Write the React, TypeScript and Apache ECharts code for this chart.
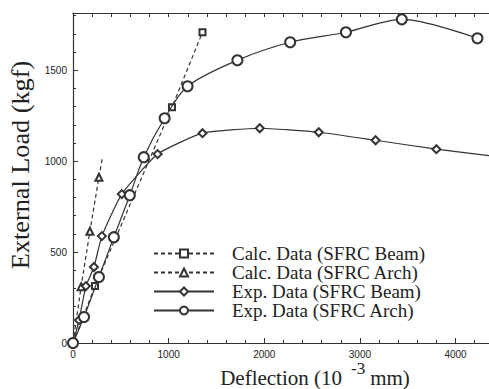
import React, { useEffect, useRef } from "react";
import * as echarts from "echarts";

const seriesNames = [
  "Calc. Data (SFRC Beam)",
  "Calc. Data (SFRC Arch)",
  "Exp. Data (SFRC Beam)",
  "Exp. Data (SFRC Arch)",
];

// [deflection (10^-3 mm), load (kgf)]
const calcBeam: number[][] = [
  [0, 0],
  [230, 313],
  [1035, 1297],
  [1354, 1709],
];
const calcArch: number[][] = [
  [0, 0],
  [85, 310],
  [177, 615],
  [271, 912],
  [305, 1010],
];
const expBeam: number[][] = [
  [0, 0],
  [63, 126],
  [135, 313],
  [219, 418],
  [302, 588],
  [510, 819],
  [885, 1039],
  [1354, 1154],
  [1953, 1181],
  [2570, 1159],
  [3164, 1115],
  [3800, 1066],
  [4350, 1030],
];
const expArch: number[][] = [
  [0, 0],
  [115, 143],
  [271, 363],
  [427, 582],
  [594, 813],
  [740, 1022],
  [958, 1236],
  [1198, 1412],
  [1719, 1555],
  [2271, 1654],
  [2854, 1709],
  [3438, 1780],
  [4229, 1676],
];

const xTicks = [0, 1000, 2000, 3000, 4000];
const yTicks = [0, 500, 1000, 1500];

const yTitle = "External Load (kgf)";
const xTitleMain = "Deflection (10";
const xTitleSup = "-3";
const xTitleEnd = "mm)";

const INK = "#333333";
const SERIF = "Liberation Serif";

function markPoints(data: number[][], hideFirst: boolean, hideLast: boolean) {
  return data.map((d, i) => {
    if ((hideFirst && i === 0) || (hideLast && i === data.length - 1)) {
      return { value: d, symbol: "none" };
    }
    return { value: d };
  });
}

function measure(text: string, size: number): number {
  const c = document.createElement("canvas").getContext("2d");
  if (!c) return text.length * size * 0.5;
  c.font = `${size}px "${SERIF}"`;
  return c.measureText(text).width;
}

export default function App() {
  const ref = useRef<HTMLDivElement>(null);
  useEffect(() => {
    if (!ref.current) return;
    const chart = echarts.init(ref.current, undefined, { renderer: "svg" });
    const lineBase = { color: INK, width: 1.2 };
    const itemBase = { color: INK, borderColor: INK, borderWidth: 1.1 };

    const mainSize = 21;
    const supSize = 17;
    const w1 = measure(xTitleMain, mainSize);
    const w2 = measure(xTitleSup, supSize);
    const w3 = measure(xTitleEnd, mainSize);
    const gapA = 9;
    const gapB = 5;
    const total = w1 + gapA + w2 + gapB + w3;
    const startX = 315 - total / 2;

    chart.setOption({
      animation: false,
      backgroundColor: "#ffffff",
      grid: { left: 73, top: 13, right: 0, bottom: 46, containLabel: false },
      legend: {
        orient: "vertical",
        left: 148,
        top: 239,
        itemWidth: 60,
        itemHeight: 10,
        itemGap: 0,
        data: seriesNames,
        textStyle: {
          fontFamily: SERIF,
          fontSize: 19,
          color: "#222",
          lineHeight: 19,
          padding: [0, 0, 0, 13],
        },
      },
      xAxis: [
        {
          type: "value",
          min: 0,
          max: 4350,
          interval: 1000,
          position: "bottom",
          axisLine: { show: true, lineStyle: { color: INK, width: 1.2 } },
          axisTick: { show: true, inside: true, length: 5, lineStyle: { color: INK } },
          minorTick: { show: true, splitNumber: 5, length: 3, lineStyle: { color: INK } },
          splitLine: { show: false },
          axisLabel: {
            fontFamily: "Liberation Sans",
            fontSize: 10,
            color: "#222",
            margin: 6,
            showMaxLabel: false,
            formatter: (v: number) => (xTicks.includes(v) ? String(v) : ""),
          },
        },
        {
          type: "value",
          min: 0,
          max: 4350,
          interval: 200,
          position: "top",
          axisLine: { show: true, lineStyle: { color: INK, width: 1.2 } },
          axisTick: { show: true, inside: true, length: 4, lineStyle: { color: INK } },
          splitLine: { show: false },
          axisLabel: { show: false },
        },
      ],
      yAxis: {
        type: "value",
        min: 0,
        max: 1815,
        interval: 500,
        axisLine: { show: true, lineStyle: { color: INK, width: 1.2 } },
        axisTick: { show: true, inside: true, length: 5, lineStyle: { color: INK } },
        minorTick: { show: true, splitNumber: 5, length: 3, lineStyle: { color: INK } },
        splitLine: { show: false },
        axisLabel: {
          fontFamily: "Liberation Sans",
          fontSize: 10,
          color: "#222",
          margin: 6,
          showMaxLabel: false,
          formatter: (v: number) => (yTicks.includes(v) ? String(v) : ""),
        },
      },
      graphic: [
        {
          type: "text",
          x: 21,
          y: 165,
          rotation: Math.PI / 2,
          scaleX: 1.05,
          style: {
            text: yTitle,
            fontFamily: SERIF,
            fontSize: 25,
            fill: "#222",
            align: "center",
            verticalAlign: "middle",
          },
        },
        {
          type: "text",
          x: startX,
          y: 378,
          style: {
            text: xTitleMain,
            fontFamily: SERIF,
            fontSize: mainSize,
            fill: "#222",
            align: "left",
            verticalAlign: "middle",
          },
        },
        {
          type: "text",
          x: startX + w1 + gapA,
          y: 368,
          style: {
            text: xTitleSup,
            fontFamily: SERIF,
            fontSize: supSize,
            fill: "#222",
            align: "left",
            verticalAlign: "middle",
          },
        },
        {
          type: "text",
          x: startX + w1 + gapA + w2 + gapB,
          y: 378,
          style: {
            text: xTitleEnd,
            fontFamily: SERIF,
            fontSize: mainSize,
            fill: "#222",
            align: "left",
            verticalAlign: "middle",
          },
        },
      ],
      series: [
        {
          name: seriesNames[0],
          type: "line",
          data: markPoints(calcBeam, true, false),
          symbol: "emptyRect",
          symbolSize: 6,
          color: INK,
          lineStyle: { ...lineBase, type: [4, 3] },
          itemStyle: itemBase,
          z: 3,
        },
        {
          name: seriesNames[1],
          type: "line",
          data: markPoints(calcArch, true, true),
          symbol: "emptyTriangle",
          symbolSize: 7,
          color: INK,
          lineStyle: { ...lineBase, type: [4, 3] },
          itemStyle: itemBase,
          z: 3,
        },
        {
          name: seriesNames[2],
          type: "line",
          data: markPoints(expBeam, true, true),
          symbol: "emptyDiamond",
          symbolSize: 8,
          smooth: 0.15,
          color: INK,
          lineStyle: { ...lineBase },
          itemStyle: itemBase,
          z: 4,
        },
        {
          name: seriesNames[3],
          type: "line",
          data: markPoints(expArch, false, false),
          symbol: "emptyCircle",
          symbolSize: 10,
          smooth: 0.3,
          color: INK,
          lineStyle: { ...lineBase },
          itemStyle: itemBase,
          z: 5,
        },
      ],
    });
    return () => chart.dispose();
  }, []);
  return (
    <div
      ref={ref}
      style={{ position: "fixed", left: 0, top: 0, width: 489, height: 389 }}
    />
  );
}
